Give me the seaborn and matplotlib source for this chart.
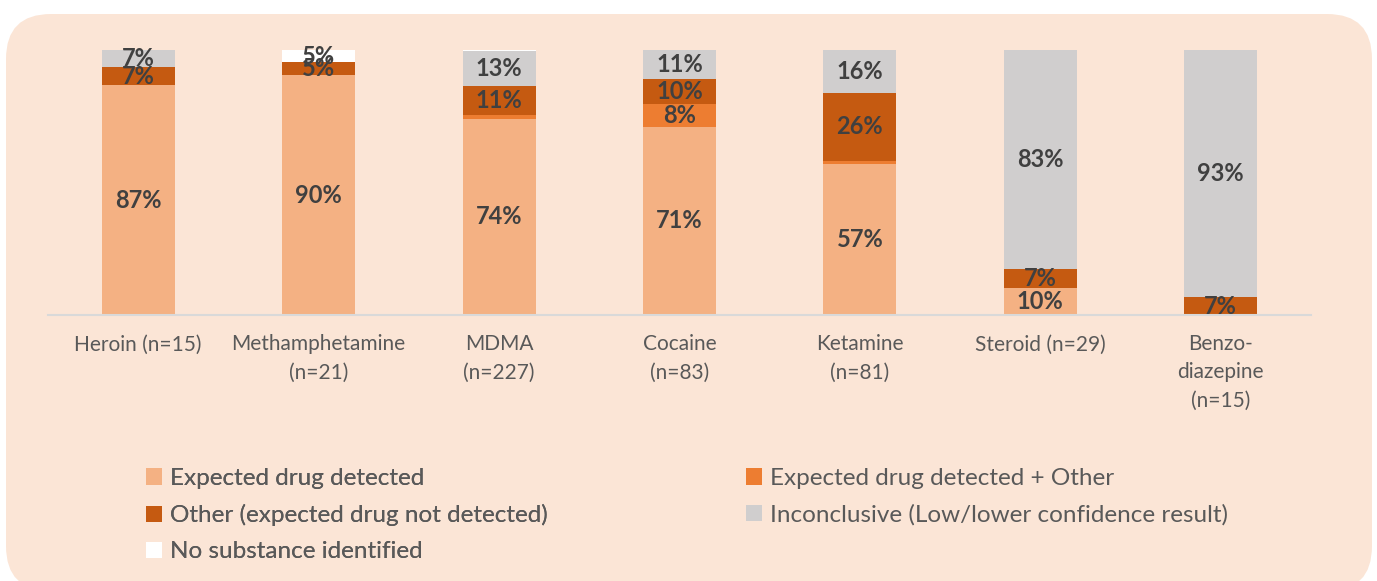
import matplotlib
matplotlib.use("Agg")
import matplotlib.pyplot as plt
from matplotlib.patches import FancyBboxPatch, Patch
from matplotlib.transforms import IdentityTransform
import seaborn as sns
import pandas as pd
import numpy as np

categories = ["Heroin (n=15)", "Methamphetamine\n(n=21)", "MDMA\n(n=227)", "Cocaine\n(n=83)",
              "Ketamine\n(n=81)", "Steroid (n=29)", "Benzo-\ndiazepine\n(n=15)"]
expected = [86.7, 90.5, 74.0, 71.1, 56.8, 10.3, 0.0]
expected_other = [0.0, 0.0, 1.3, 8.4, 1.2, 0.0, 0.0]
other = [6.7, 4.8, 11.0, 9.6, 25.9, 6.9, 6.7]
inconclusive = [6.7, 0.0, 13.2, 10.8, 16.0, 82.8, 93.3]
no_substance = [0.0, 4.8, 0.4, 0.0, 0.0, 0.0, 0.0]

series_names = ["Expected drug detected", "Expected drug detected + Other",
                "Other (expected drug not detected)", "Inconclusive (Low/lower confidence result)",
                "No substance identified"]
series_vals = [expected, expected_other, other, inconclusive, no_substance]
colors = ["#F4B183", "#ED7D31", "#C55A11", "#D0CECE", "#FFFFFF"]

sns.set_theme(style="white")
plt.rcParams["font.family"] = ["Lato", "DejaVu Sans"]

W, H = 1377, 581
fig = plt.figure(figsize=(W / 100, H / 100), dpi=100, facecolor="white")

bg = FancyBboxPatch((6, -10), 1366, H - 14 + 10, boxstyle="round,pad=0,rounding_size=45",
                    transform=IdentityTransform(), facecolor="#FBE5D6", edgecolor="none", zorder=-5)
fig.patches.append(bg)

ax = fig.add_axes([48 / W, 1 - 315 / H, (1311 - 48) / W, (315 - 50) / H])
ax.set_facecolor("none")
ax.set_zorder(2)

arr = np.array(series_vals)
cum = np.cumsum(arr, axis=0)

# draw from top layer down (overlay stacking)
for i in range(len(series_names) - 1, -1, -1):
    df = pd.DataFrame({"cat": categories, "val": cum[i]})
    sns.barplot(data=df, x="cat", y="val", color=colors[i], width=0.405, saturation=1,
                ax=ax, order=categories, linewidth=0, zorder=2)

ax.set_xlim(-0.5, 6.5)
ax.set_ylim(0, 100)
ax.set_xlabel("")
ax.set_ylabel("")
ax.set_yticks([])
for s in ["top", "right", "left"]:
    ax.spines[s].set_visible(False)
ax.spines["bottom"].set_color("#D9D9D9")
ax.spines["bottom"].set_linewidth(1.5)
ax.tick_params(axis="x", length=0, pad=14, labelsize=15, labelcolor="#595959")
for t in ax.get_xticklabels():
    t.set_linespacing(1.5)

# segment labels
for i in range(len(series_names)):
    for j in range(len(categories)):
        v = arr[i, j]
        if v >= 4:
            base = cum[i, j] - v
            ax.text(j, base + v / 2, f"{v:.0f}%", ha="center", va="center",
                    fontsize=17, fontweight="bold", color="#404040", zorder=5)

h = [Patch(facecolor=c, edgecolor="none") for c in colors]
kw = dict(loc="upper left", frameon=False, fontsize=17.5, labelcolor="#595959",
          handlelength=0.65, handleheight=0.65, handletextpad=0.35, labelspacing=0.62,
          borderaxespad=0, borderpad=0)
leg1 = fig.legend([h[0], h[2], h[4]], [series_names[0], series_names[2], series_names[4]],
                  bbox_to_anchor=(146 / W, 1 - 468 / H), **kw)
leg2 = fig.legend([h[1], h[3]], [series_names[1], series_names[3]],
                  bbox_to_anchor=(746 / W, 1 - 468 / H), **kw)
fig.add_artist(leg1)

fig.savefig("out.png", dpi=100, facecolor="white")
